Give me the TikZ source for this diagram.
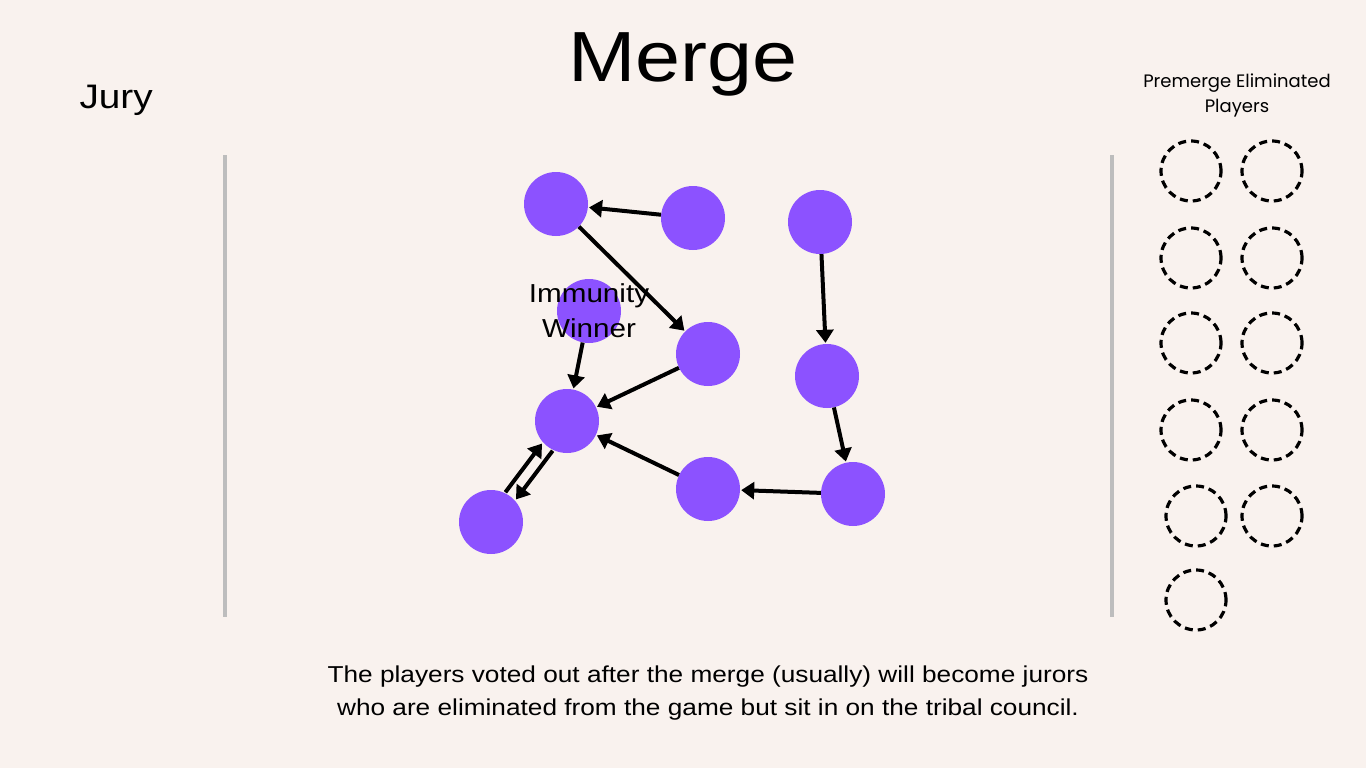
\documentclass[tikz,border=0pt]{standalone}
\usepackage{fontspec}
\setmainfont{Liberation Sans}
\newfontfamily\widefont[FakeStretch=1.14]{Liberation Sans}
\newfontfamily\premfont{Poppins}
\usepackage{tikz}
\usetikzlibrary{arrows.meta}

\definecolor{bgcream}{HTML}{F9F2EE}
\definecolor{playerpurple}{HTML}{8C52FF}
\definecolor{railgray}{HTML}{BDBDBD}

\begin{document}
\begin{tikzpicture}[x=1pt,y=-1pt,
    player/.style={circle,fill=playerpurple,minimum size=64pt,inner sep=0pt},
    gone/.style={circle,draw=black,dash pattern=on 8pt off 5pt,line width=3.2pt,minimum size=60pt,inner sep=0pt},
    vote/.style={line width=4pt,-{Triangle[length=13pt,width=17pt]},shorten >=1pt},
    rail/.style={draw=railgray,line width=3.5pt}
]
% Background
\fill[bgcream] (0,0) rectangle (1366,768);
\useasboundingbox (0,0) rectangle (1366,768);
% Titles
\node (title) at (683,64) {\widefont\fontsize{71}{80}\selectfont Merge};
\node[anchor=west] (jury) at (76,100) {\widefont\fontsize{34}{38}\selectfont Jury};
\node[align=center,font=\premfont\fontsize{18}{25}\selectfont] (prem) at (1237,95) {Premerge Eliminated\\Players};
% Side lines
\draw[rail] (225,155) -- (225,617);
\draw[rail] (1112,155) -- (1112,617);
% Players
\node[player] (a) at (556,204) {};
\node[player] (b) at (693,218) {};
\node[player] (c) at (820,222) {};
\node[player] (d) at (589,311) {};
\node[player] (e) at (708,354) {};
\node[player] (f) at (827,376) {};
\node[player] (g) at (567,421) {};
\node[player] (h) at (491,522) {};
\node[player] (i) at (708,489) {};
\node[player] (j) at (853,494) {};
\node[align=center,font=\widefont\fontsize{26}{35}\selectfont] (imm) at (589,311) {Immunity\\Winner};
% Votes
\draw[vote] (b) -- (a);
\draw[vote] (a) -- (e);
\draw[vote] (c) -- (f);
\draw[vote] (d) -- (g);
\draw[vote] (e) -- (g);
\draw[vote] (f) -- (j);
\draw[vote] (j) -- (i);
\draw[vote] (i) -- (g);
\draw[vote,transform canvas={shift={(-5pt,4pt)}}] (h) -- (g);
\draw[vote,transform canvas={shift={(5pt,-4pt)}}] (g) -- (h);
% Premerge eliminated
\foreach \n/\px/\py in {1/1191/171,2/1272/171,3/1191/258,4/1272/258,5/1191/343,6/1272/343,7/1191/430,8/1272/430,9/1196/516,10/1272/516,11/1196/600}
    \node[gone] (o\n) at (\px,\py) {};
% Caption
\node[align=center,font=\widefont\fontsize{23}{33}\selectfont] (note) at (708,693) {The players voted out after the merge (usually) will become jurors\\who are eliminated from the game but sit in on the tribal council.};
\end{tikzpicture}
\end{document}
